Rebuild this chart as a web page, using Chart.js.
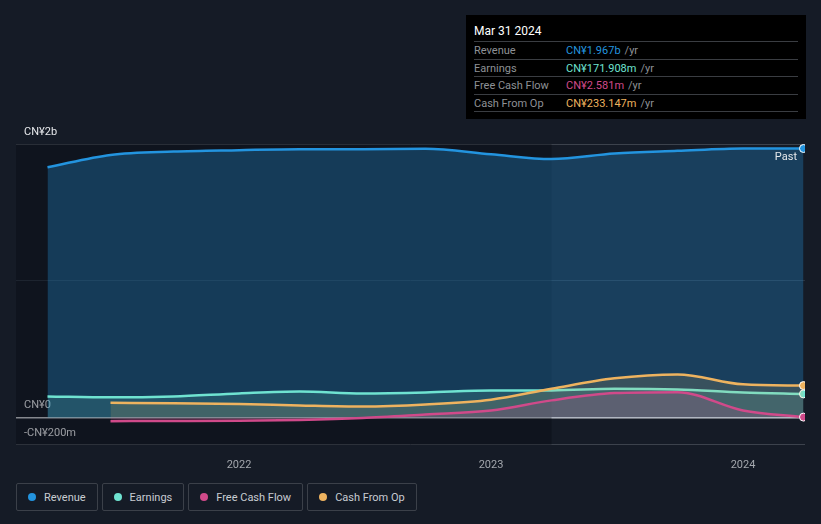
<!DOCTYPE html>
<html>
<head>
<meta charset="utf-8">
<script src="https://cdn.jsdelivr.net/npm/chart.js@4"></script>
<style>
  body { margin: 0; background: #151b26; font-family: Roboto, "Open Sans", sans-serif; }
  #wrap { position: relative; width: 821px; height: 524px; }
  #chartBox { position: absolute; left: 0; top: 0; width: 821px; height: 478px; }
  #tip { position: absolute; left: 466px; top: 15px; width: 340px; height: 104px; background: #000; box-sizing: border-box; padding: 0 8px; }
  #tip .title { color: #fff; font-size: 12px; height: 26px; line-height: 20px; padding-top: 6px; box-sizing: border-box; }
  #tip .row { display: flex; border-top: 1px solid #3a3d42; height: 17.5px; line-height: 17px; font-size: 11px; box-sizing: border-box; }
  #tip .row:last-child { border-bottom: 1px solid #3a3d42; height: 18.5px; }
  #tip .lab { width: 92px; color: #8e9196; }
  #tip .unit { color: #8e9196; margin-left: 4px; }
  #legend { position: absolute; left: 16px; top: 483px; display: flex; }
  .item { border: 1px solid #3b4049; border-radius: 2px; height: 28px; box-sizing: border-box; display: flex; align-items: center; padding: 0 11px 0 11px; margin-right: 4px; color: #c8ccd2; font-size: 11px; }
  .dot { width: 8px; height: 8px; border-radius: 50%; margin-right: 8px; }
</style>
</head>
<body>
<div id="wrap">
  <div id="chartBox"><canvas id="chart"></canvas></div>
  <div id="tip">
    <div class="title">Mar 31 2024</div>
    <div class="row"><span class="lab">Revenue</span><span style="color:#2394df">CN¥1.967b</span><span class="unit">/yr</span></div>
    <div class="row"><span class="lab">Earnings</span><span style="color:#6fe3d1">CN¥171.908m</span><span class="unit">/yr</span></div>
    <div class="row"><span class="lab">Free Cash Flow</span><span style="color:#d04a8a">CN¥2.581m</span><span class="unit">/yr</span></div>
    <div class="row"><span class="lab">Cash From Op</span><span style="color:#eeb35f">CN¥233.147m</span><span class="unit">/yr</span></div>
  </div>
  <div id="legend"></div>
</div>
<script>
// decimal years for each reporting quarter
const dates = [2021.24, 2021.49, 2021.74, 2022.0, 2022.24, 2022.49, 2022.74, 2023.0, 2023.24, 2023.49, 2023.74, 2024.0, 2024.24];
// values in CN¥ billions
const revenue = [1.83, 1.92, 1.945, 1.955, 1.962, 1.962, 1.965, 1.925, 1.89, 1.93, 1.95, 1.968, 1.967];
const earnings = [0.154, 0.147, 0.154, 0.176, 0.19, 0.176, 0.183, 0.198, 0.198, 0.21, 0.205, 0.183, 0.172];
const freeCashFlow = [null, -0.027, -0.026, -0.024, -0.018, -0.004, 0.022, 0.051, 0.125, 0.178, 0.185, 0.051, 0.0026];
const cashFromOp = [null, 0.107, 0.103, 0.099, 0.088, 0.08, 0.095, 0.13, 0.21, 0.286, 0.315, 0.242, 0.233];
const yearTicks = [2022, 2023, 2024];
const yTicks = [-0.2, 0, 1, 2];
const pastStart = 2023.24;

const colors = { rev: '#2394df', earn: '#6fe3d1', fcf: '#d04a8a', cfo: '#eeb35f' };

function pts(arr) {
  return dates.map((d, i) => ({ x: d, y: arr[i] })).filter(p => p.y !== null);
}

function series(label, arr, color, fillColor, order) {
  const data = pts(arr);
  return {
    label: label,
    data: data,
    order: order,
    borderColor: color,
    backgroundColor: fillColor,
    fill: 'origin',
    borderWidth: 2.5,
    tension: 0.4,
    cubicInterpolationMode: 'monotone',
    pointRadius: ctx => ctx.dataIndex === data.length - 1 ? 4 : 0,
    pointBackgroundColor: color,
    pointBorderColor: '#ffffff',
    pointBorderWidth: 1,
    pointHoverRadius: 0
  };
}

// darker band over everything before the last year, plus the "Past" tag
const overlay = {
  id: 'overlay',
  beforeDatasetsDraw(chart) {
    const { ctx, chartArea, scales } = chart;
    const xr = scales.x.getPixelForValue(pastStart);
    ctx.save();
    ctx.fillStyle = 'rgba(6,10,16,0.35)';
    ctx.fillRect(chartArea.left, chartArea.top, xr - chartArea.left, chartArea.bottom - chartArea.top);
    ctx.restore();
  },
  afterDatasetsDraw(chart) {
    const { ctx, chartArea, scales } = chart;
    ctx.save();
    ctx.fillStyle = '#e6e8eb';
    ctx.font = '11px Roboto, sans-serif';
    ctx.textAlign = 'right';
    ctx.fillText('Past', chartArea.right - 8, scales.y.getPixelForValue(2) + 16);
    ctx.restore();
  }
};

new Chart(document.getElementById('chart'), {
  type: 'line',
  data: {
    datasets: [
      series('Revenue', revenue, colors.rev, 'rgba(35,148,223,0.30)', 4),
      series('Earnings', earnings, colors.earn, 'rgba(111,227,209,0.15)', 3),
      series('Free Cash Flow', freeCashFlow, colors.fcf, 'rgba(208,74,138,0.18)', 1),
      series('Cash From Op', cashFromOp, colors.cfo, 'rgba(238,179,95,0.15)', 2)
    ]
  },
  plugins: [overlay],
  options: {
    responsive: true,
    maintainAspectRatio: false,
    animation: false,
    layout: { padding: { left: 0, right: 16, top: 144, bottom: 0 } },
    plugins: { legend: { display: false }, tooltip: { enabled: false } },
    scales: {
      x: {
        type: 'linear',
        min: 2021.115,
        max: 2024.246,
        afterBuildTicks: axis => { axis.ticks = yearTicks.map(v => ({ value: v })); },
        grid: { display: false },
        border: { display: false },
        ticks: { color: '#a3a7ad', font: { size: 11, family: 'Roboto, sans-serif' }, padding: 6, callback: v => String(v) }
      },
      y: {
        min: -0.2,
        max: 2,
        afterBuildTicks: axis => { axis.ticks = yTicks.map(v => ({ value: v })); },
        grid: {
          color: ctx => ctx.tick && ctx.tick.value === 0 ? '#c9ccd1' : (ctx.tick && ctx.tick.value === 1 ? '#2a3340' : '#3c424c'),
          lineWidth: ctx => ctx.tick && ctx.tick.value === 0 ? 1.5 : 1,
          drawTicks: false
        },
        border: { display: false },
        ticks: {
          mirror: true,
          labelOffset: -12,
          padding: 8,
          color: '#e6e8eb',
          font: { size: 11, family: 'Roboto, sans-serif' },
          callback: v => v === 2 ? 'CN¥2b' : v === 0 ? 'CN¥0' : v === -0.2 ? '-CN¥200m' : ''
        }
      }
    }
  }
});

const legendItems = [['Revenue', colors.rev], ['Earnings', colors.earn], ['Free Cash Flow', colors.fcf], ['Cash From Op', colors.cfo]];
const legend = document.getElementById('legend');
legendItems.forEach(([name, c]) => {
  const el = document.createElement('div');
  el.className = 'item';
  el.innerHTML = '<span class="dot" style="background:' + c + '"></span>' + name;
  legend.appendChild(el);
});
</script>
</body>
</html>
